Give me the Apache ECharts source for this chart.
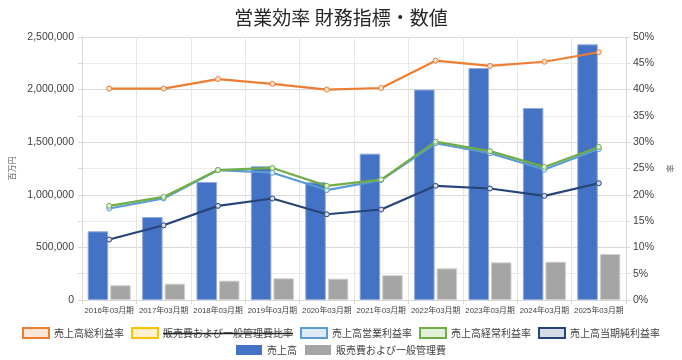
<!DOCTYPE html>
<html>
<head>
<meta charset="utf-8">
<script src="https://cdn.jsdelivr.net/npm/echarts@6/dist/echarts.min.js"></script>
<style>html,body{margin:0;padding:0;background:#fff}#c{width:682px;height:360px}</style>
</head>
<body>
<div id="c"></div>
<script>
var categories = ['2016年03月期','2017年03月期','2018年03月期','2019年03月期','2020年03月期','2021年03月期','2022年03月期','2023年03月期','2024年03月期','2025年03月期'];
var sales = [653000, 789000, 1122000, 1271000, 1119000, 1391000, 2000000, 2205000, 1825000, 2430000];
var sga = [140000, 155000, 184000, 206000, 203000, 236000, 301000, 358000, 364000, 437000];
var grossMargin = [40.2, 40.2, 42.0, 41.1, 40.0, 40.3, 45.5, 44.5, 45.3, 47.1];
var sgaRatio = [];
var opMargin = [17.4, 19.3, 24.7, 24.2, 20.9, 22.8, 29.8, 27.9, 24.8, 28.7];
var ordMargin = [17.9, 19.6, 24.7, 25.1, 21.7, 22.9, 30.1, 28.3, 25.3, 29.1];
var netMargin = [11.5, 14.2, 17.9, 19.3, 16.3, 17.2, 21.7, 21.2, 19.8, 22.2];
var leftTicks = [0, 500000, 1000000, 1500000, 2000000, 2500000];

var FONT = '"Liberation Sans", "Noto Sans CJK JP", sans-serif';
var CJK = '"Noto Sans CJK JP", sans-serif';

var lineDefs = [
  {name:'売上高総利益率', data: grossMargin, color:'#ed7d31', fill:'#fbe5d6'},
  {name:'販売費および一般管理費比率', data: sgaRatio, color:'#ffc000', fill:'#fff2cc'},
  {name:'売上高営業利益率', data: opMargin, color:'#5b9bd5', fill:'#deebf7'},
  {name:'売上高経常利益率', data: ordMargin, color:'#70ad47', fill:'#e2f0d9'},
  {name:'売上高当期純利益率', data: netMargin, color:'#264478', fill:'#d6dce5'}
];

var chart = echarts.init(document.getElementById('c'), null, {renderer:'canvas'});

var series = [
  {name:'売上高', type:'bar', yAxisIndex:0, data: sales, barWidth:20.5, barGap:'10%',
   itemStyle:{color:'#4472c4', borderColor:'#8faadc', borderWidth:1}},
  {name:'販売費および一般管理費', type:'bar', yAxisIndex:0, data: sga, barWidth:20.5, barGap:'10%',
   itemStyle:{color:'#a5a5a5', borderColor:'#d0d0d0', borderWidth:1}}
];
lineDefs.forEach(function(d){
  series.push({name:d.name, type:'line', yAxisIndex:1, data:d.data, symbol:'circle', symbolSize:5,
    lineStyle:{color:d.color, width:2.2}, itemStyle:{color:d.fill, borderColor:d.color, borderWidth:1}, z:3});
});

var sel = {}; sel['販売費および一般管理費比率'] = false;

chart.setOption({
  animation:false,
  backgroundColor:'#fff',
  title:{text:'営業効率 財務指標・数値', left:'center', top:3,
    textStyle:{fontSize:19, fontWeight:'normal', color:'#262626', fontFamily:CJK}},
  grid:{left:71, right:46, top:37, bottom:60},
  legend:[
    {top:322, left:'center', itemWidth:26, itemHeight:10, itemGap:7, icon:'rect', selected: sel,
     textStyle:{fontSize:10, color:'#404040', fontFamily:CJK, rich:{s:{fontSize:10, color:'#404040', fontFamily:CJK}}},
     formatter:function(n){ return n === '販売費および一般管理費比率' ? '{s|' + n + '}' : n; },
     data: lineDefs.map(function(d){
       return {name:d.name, itemStyle:{color:d.fill, borderColor:d.color, borderWidth:2},
         inactiveColor:d.fill, inactiveBorderColor:d.color, inactiveBorderWidth:2};
     })},
    {top:340, left:'center', itemWidth:26, itemHeight:10, itemGap:8, icon:'rect',
     textStyle:{fontSize:10, color:'#404040', fontFamily:CJK},
     data:[{name:'売上高', itemStyle:{color:'#4472c4', borderWidth:0}}, {name:'販売費および一般管理費', itemStyle:{color:'#a5a5a5', borderWidth:0}}]}
  ],
  xAxis:{type:'category', data:categories, boundaryGap:true,
    axisLine:{show:true, lineStyle:{color:'#d9d9d9'}},
    axisTick:{show:true, length:4, lineStyle:{color:'#d9d9d9'}},
    splitLine:{show:true, lineStyle:{color:'#e6e6e6'}},
    axisLabel:{fontSize:7.8, color:'#404040', fontFamily:FONT, margin:7, interval:0}},
  yAxis:[
    {type:'value', min:0, max:2500000, interval:250000, name:'百万円', nameLocation:'middle', nameGap:66,
     nameTextStyle:{fontSize:8, color:'#595959', fontFamily:CJK},
     axisLine:{show:true, lineStyle:{color:'#d9d9d9'}},
     axisTick:{show:true, length:4, lineStyle:{color:'#d9d9d9'}},
     splitLine:{show:true, lineStyle:{color:['#d9d9d9','#ececec']}},
     axisLabel:{fontSize:10.5, color:'#404040', fontFamily:FONT, margin:8,
       formatter:function(v){ return leftTicks.indexOf(v) >= 0 ? v.toLocaleString('en-US') : ''; }}},
    {type:'value', min:0, max:50, interval:5, name:'率', nameLocation:'middle', nameGap:40,
     nameTextStyle:{fontSize:8, color:'#595959', fontFamily:CJK},
     axisLine:{show:true, lineStyle:{color:'#d9d9d9'}},
     axisTick:{show:true, length:4, lineStyle:{color:'#d9d9d9'}},
     splitLine:{show:false},
     axisLabel:{fontSize:10.5, color:'#404040', fontFamily:FONT, margin:7, formatter:'{value}%'}}
  ],
  graphic:[
    {type:'line', id:'strike', shape:{x1:0, y1:0, x2:0, y2:0}, style:{stroke:'#262626', lineWidth:1.3}, z:100}
  ],
  series: series
});

(function(){
  try {
    var zr = chart.getZr();
    var found = null;
    zr.storage.getDisplayList(true).forEach(function(el){
      var t = el.style && el.style.text;
      if (t && typeof t === 'string' && t.indexOf('販売費および一般管理費比率') >= 0) { found = el; }
    });
    if (found) {
      var r = found.getBoundingRect().clone();
      r.applyTransform(found.getComputedTransform());
      chart.setOption({graphic:[{id:'strike', shape:{x1:r.x, y1:r.y + r.height/2 + 0.5, x2:r.x + r.width, y2:r.y + r.height/2 + 0.5}}]});
    }
  } catch(e) {}
})();
</script>
</body>
</html>
